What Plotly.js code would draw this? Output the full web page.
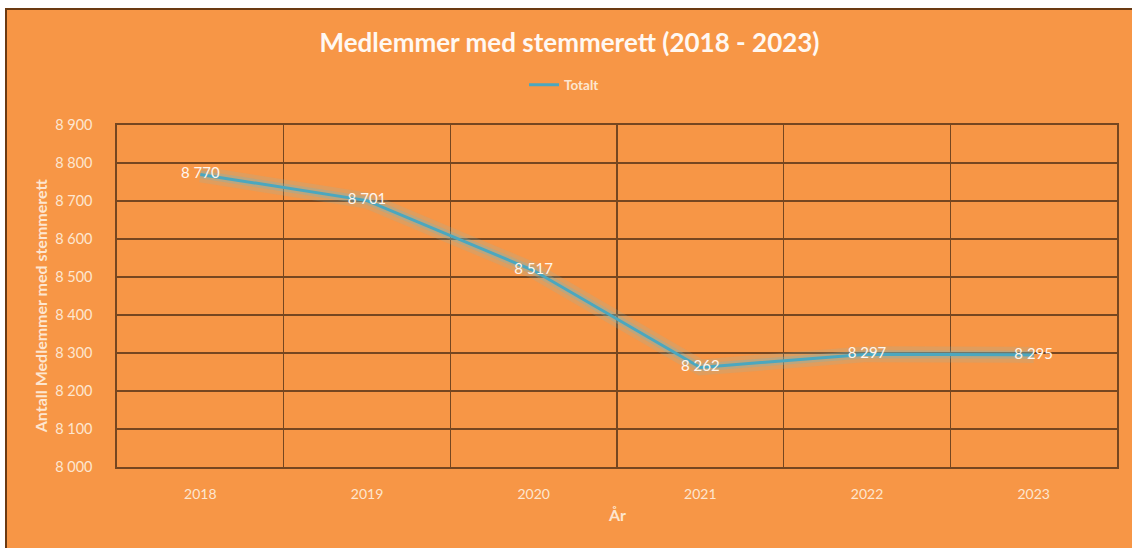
<!DOCTYPE html>
<html>
<head>
<meta charset="utf-8">
<script src="https://cdn.plot.ly/plotly-3.0.1.min.js"></script>
<style>
  body { margin: 0; background: #ffffff; }
  #chart {
    position: absolute; left: 5px; top: 8px;
    width: 1125px; height: 538px;
    border-top: 2px solid #6b3a12; border-left: 2px solid #6b3a12;
  }
</style>
</head>
<body>
<div id="chart"></div>
<script>
// år og antall medlemmer med stemmerett
var years = ['2018', '2019', '2020', '2021', '2022', '2023'];
var members = [8770, 8701, 8517, 8262, 8297, 8295];
var yTicks = [8000, 8100, 8200, 8300, 8400, 8500, 8600, 8700, 8800, 8900];

var lineColor = '#4ba7bf';
var cream = '#fde6d0';
var grid = '#764620';

// soft glow under the line (like Excel's glow effect)
var glowWide = {
  type: 'scatter', x: years, y: members, mode: 'lines',
  line: { color: 'rgba(120,190,200,0.18)', width: 16 },
  hoverinfo: 'skip', showlegend: false
};
var glow = {
  type: 'scatter', x: years, y: members, mode: 'lines',
  line: { color: 'rgba(110,185,200,0.3)', width: 8 },
  hoverinfo: 'skip', showlegend: false
};
var totalt = {
  type: 'scatter',
  x: years,
  y: members,
  mode: 'lines+text',
  name: '<b>Totalt</b>',
  line: { color: lineColor, width: 3 },
  texttemplate: '%{y:,d}',
  textposition: 'middle center',
  textfont: { color: '#fff6ee', size: 15, family: 'Lato, sans-serif' }
};

var layout = {
  paper_bgcolor: '#f79646',
  plot_bgcolor: '#f79646',
  separators: ', ',
  font: { family: 'Lato, sans-serif', color: cream, size: 12 },
  margin: { l: 110, r: 15, t: 115, b: 81 },
  title: {
    text: '<b>Medlemmer med stemmerett (2018 - 2023)</b>',
    font: { size: 26, color: '#fff8f2', family: 'Lato, sans-serif' },
    x: 0.5, xanchor: 'center',
    yref: 'container', y: 0.939, yanchor: 'middle'
  },
  showlegend: true,
  legend: {
    orientation: 'h',
    x: 0.447, xanchor: 'center',
    y: 1.117, yanchor: 'middle',
    font: { size: 13.5, color: cream },
    bgcolor: 'rgba(0,0,0,0)'
  },
  xaxis: {
    type: 'category',
    range: [-0.5, 5.5],
    tickson: 'boundaries',
    ticks: '',
    showgrid: true,
    gridcolor: grid,
    gridwidth: 1.6,
    showline: true,
    linecolor: grid,
    linewidth: 2,
    mirror: true,
    zeroline: false,
    ticklabelstandoff: 13,
    tickfont: { size: 14, color: cream }
  },
  yaxis: {
    range: [8000, 8900],
    tickvals: yTicks,
    tickformat: ',d',
    showgrid: true,
    gridcolor: grid,
    gridwidth: 1.6,
    showline: true,
    linecolor: grid,
    linewidth: 1.6,
    mirror: true,
    zeroline: false,
    ticks: '',
    ticklabelstandoff: 20,
    tickfont: { size: 14.5, color: cream }
  },
  annotations: [
    {
      text: '<b>Antall Medlemmer med stemmerett</b>',
      xref: 'paper', yref: 'paper',
      x: -0.077, y: 0.47,
      xanchor: 'center', yanchor: 'middle',
      textangle: -90, showarrow: false,
      font: { size: 16, color: cream }
    },
    {
      text: '<b>År</b>',
      xref: 'paper', yref: 'paper',
      x: 0.5, y: -0.14,
      xanchor: 'center', yanchor: 'middle',
      showarrow: false,
      font: { size: 16, color: cream }
    }
  ]
};

Plotly.newPlot('chart', [glowWide, glow, totalt], layout, { displayModeBar: false, staticPlot: true });
</script>
</body>
</html>
